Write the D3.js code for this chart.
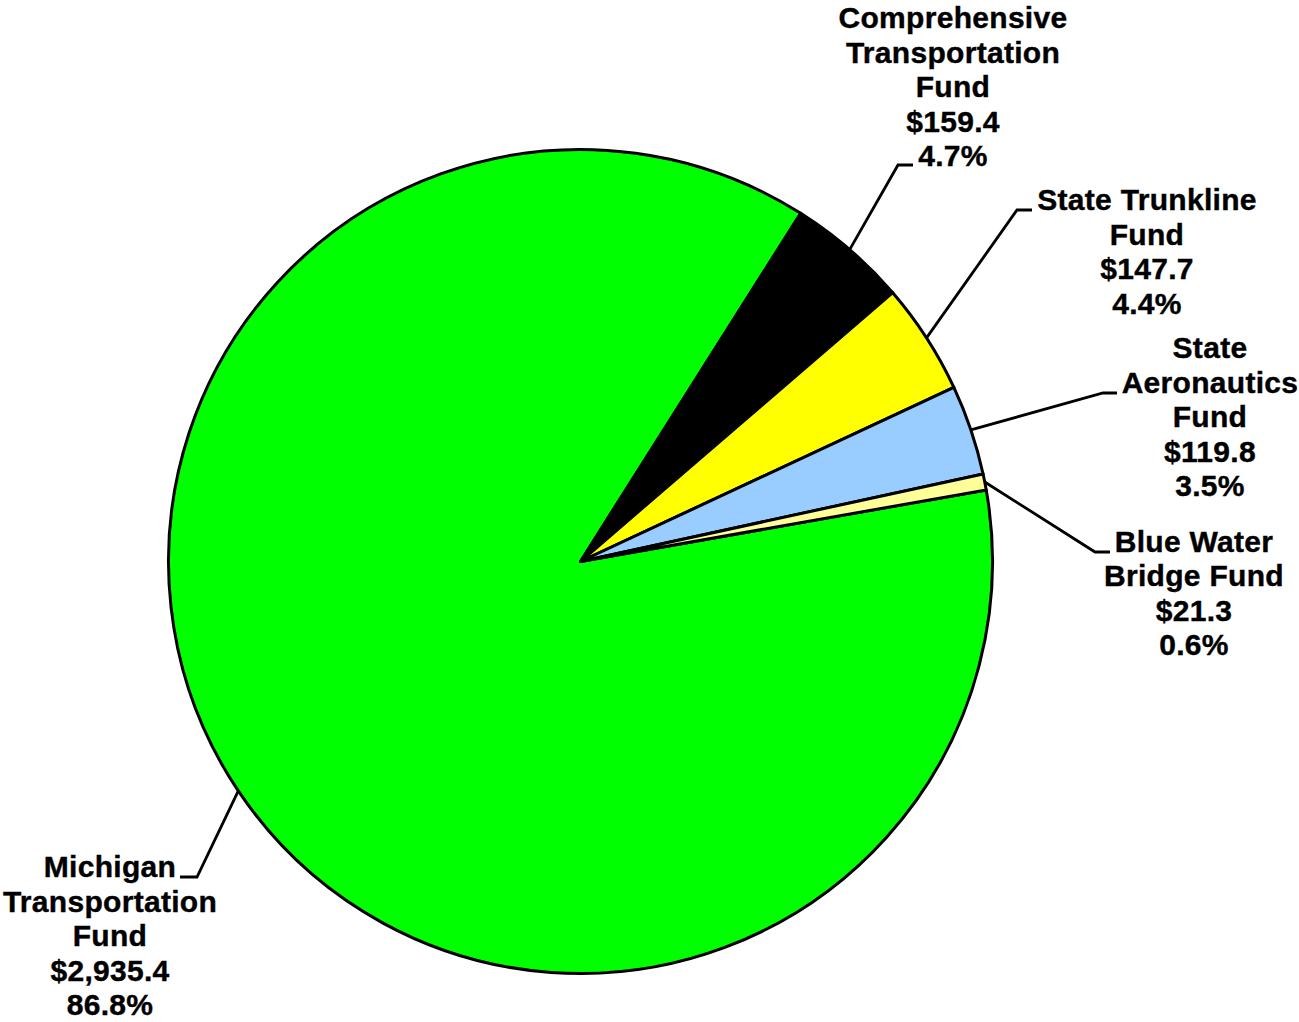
<!DOCTYPE html>
<html>
<head>
<meta charset="utf-8">
<script src="https://cdn.jsdelivr.net/npm/d3@7"></script>
<style>
html,body{margin:0;padding:0;background:#fff;}
svg{display:block;}
text{font-family:Arial,"Liberation Sans",sans-serif;font-weight:bold;font-size:30px;letter-spacing:0.3px;fill:#000;stroke:#000;stroke-width:0.4px;}
</style>
</head>
<body>
<svg id="chart" width="1299" height="1022"></svg>
<script>
const categories = ["Michigan Transportation Fund","Comprehensive Transportation Fund","State Trunkline Fund","State Aeronautics Fund","Blue Water Bridge Fund"];
const values = [2935.4, 159.4, 147.7, 119.8, 21.3];
const colors = ["#00FF00","#000000","#FFFF00","#99CCFF","#FFFF99"];
const labelLines = [
  ["Michigan","Transportation","Fund"],
  ["Comprehensive","Transportation","Fund"],
  ["State Trunkline","Fund"],
  ["State","Aeronautics","Fund"],
  ["Blue Water","Bridge Fund"]
];

// layout
const cx = 580.5, cy = 561.5, R = 412;
const startDeg = 80;
const labelLayout = [
  {tx:110,  ty:877,  elbow:[197,877],  end:[180,877]},
  {tx:953,  ty:28,   elbow:[898,165],  end:[913,165]},
  {tx:1147, ty:210,  elbow:[1017,210], end:[1032,210]},
  {tx:1210, ty:358,  elbow:[1103,393], end:[1117,393]},
  {tx:1194, ty:551.5,elbow:[1095,552], end:[1110,552]}
];
const lineH = 34.5;

const total = d3.sum(values);
const data = categories.map((c,i)=>({name:c,value:values[i],color:colors[i],i}));

const svg = d3.select("#chart");
const start = startDeg*Math.PI/180;
const pie = d3.pie().sort(null).value(d=>d.value).startAngle(start).endAngle(start+2*Math.PI);
const arcs = pie(data);
const arc = d3.arc().innerRadius(0).outerRadius(R);

const g = svg.append("g").attr("transform",`translate(${cx},${cy})`);
g.selectAll("path.slice").data(arcs).enter().append("path")
  .attr("class","slice")
  .attr("d",arc)
  .attr("fill",d=>d.data.color)
  .attr("stroke","#000")
  .attr("stroke-width",3)
  .attr("stroke-linejoin","round");

const fmtMoney = d3.format(",.1f");
const fmtPct = d3.format(".1%");

arcs.forEach((a,i)=>{
  const L = labelLayout[i];
  const mid = (a.startAngle+a.endAngle)/2;
  const px = cx + R*Math.sin(mid), py = cy - R*Math.cos(mid);
  svg.append("polyline")
    .attr("points",[[px,py],L.elbow,L.end].map(p=>p.join(",")).join(" "))
    .attr("fill","none").attr("stroke","#000").attr("stroke-width",2.8);
  const lines = labelLines[i].concat(["$"+fmtMoney(a.data.value), fmtPct(a.data.value/total)]);
  const t = svg.append("text").attr("text-anchor","middle");
  lines.forEach((s,k)=>{
    t.append("tspan").attr("x",L.tx).attr("y",L.ty+k*lineH).text(s);
  });
});
</script>
</body>
</html>
